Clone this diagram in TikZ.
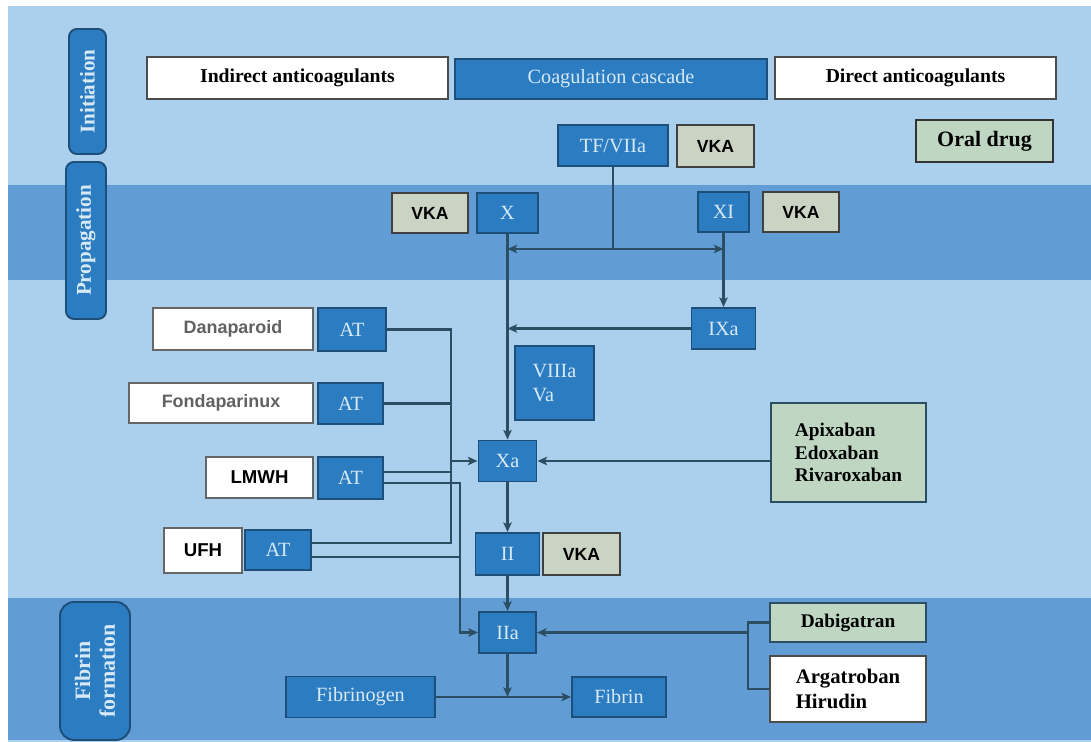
\documentclass[tikz,border=0pt]{standalone}
\usepackage{fontspec}
\setmainfont{Liberation Serif}
\newfontfamily\drugsans{Liberation Sans}
\usetikzlibrary{arrows.meta}
\usetikzlibrary{calc}

\definecolor{bglight}{HTML}{AAD0EE}
\definecolor{bgband}{HTML}{619CD4}
\definecolor{casfill}{HTML}{2B7CC1}
\definecolor{casedge}{HTML}{1E4E7A}
\definecolor{castext}{HTML}{D8E9F6}
\definecolor{linkcol}{HTML}{2C4E63}
\definecolor{vkafill}{HTML}{CBD3C5}
\definecolor{oralfill}{HTML}{BED6C2}

\tikzset{
 sz/.style 2 args={minimum width=#1*0.02cm, minimum height=#2*0.02cm},
 cas/.style={draw=casedge, fill=casfill, line width=1.1pt, inner sep=0pt, text=castext,
   align=center, font=\fontsize{11.5}{13.7}\selectfont},
 whitebox/.style={draw=black!70, fill=white, line width=1.1pt, inner sep=0pt, align=left,
   font=\fontsize{11.2}{14}\selectfont\bfseries},
 drugbox/.style={draw=black!60, fill=white, line width=1.1pt, inner sep=0pt,
   font=\drugsans\fontsize{10.2}{12}\selectfont\bfseries},
 vkabox/.style={draw=black!75, fill=vkafill, line width=1.2pt, inner sep=0pt,
   font=\drugsans\fontsize{10}{12}\selectfont\bfseries},
 oralbox/.style={draw=linkcol, fill=oralfill, line width=1.1pt, inner sep=0pt, align=left,
   font=\fontsize{11}{13}\selectfont\bfseries},
 phase/.style={draw=casedge, fill=casfill, line width=1.1pt, rounded corners=4.5pt, inner sep=0pt,
   rotate=90, text=castext, align=center, font=\fontsize{12}{14}\selectfont\bfseries},
 link/.style={draw=linkcol, line width=1.4pt},
 >={Stealth[length=5.5pt, width=4.8pt, inset=1.3pt]}
}

\begin{document}
\begin{tikzpicture}[x=0.02cm, y=-0.02cm]
\useasboundingbox (0,0) rectangle (1091,742);
\fill[white] (0,0) rectangle (1091,742);
\fill[bglight] (8,6) rectangle (1091,742);
\fill[bgband] (8,185) rectangle (1091,280);
\fill[bgband] (8,598) rectangle (1091,740);

\node[phase, sz={125}{37}] (init) at (87.5,91.5) {Initiation};
\node[phase, sz={157}{40}] (prop) at (86,240.5) {Propagation};
\node[phase, sz={138}{70}, rounded corners=8pt, font=\fontsize{12.5}{14}\selectfont\bfseries] (fibform) at (95,671) {Fibrin\\formation};

\node[whitebox, sz={301}{42}] (indirect) at (297.5,78) {Indirect anticoagulants};
\node[cas, sz={312}{40}] (cascade) at (611,79) {Coagulation cascade};
\node[whitebox, sz={281}{42}] (direct) at (915.5,78) {Direct anticoagulants};

\node[cas, sz={110}{41}] (tf) at (613,145.5) {TF/VIIa};
\node[vkabox, sz={77}{42}, line width=1.5pt] (vkatf) at (715.5,146) {VKA};
\node[oralbox, sz={137}{42}, draw=black!80, line width=1.6pt, font=\fontsize{12.5}{14}\selectfont\bfseries] (oral) at (984.5,141) {Oral drug};

\node[vkabox, sz={76}{40}] (vkax) at (430,213) {VKA};
\node[cas, sz={61}{40}] (x) at (507.5,213) {X};
\node[cas, sz={51}{40}] (xi) at (723.5,212) {XI};
\node[vkabox, sz={76}{40}] (vkaxi) at (801,212) {VKA};

\node[cas, sz={64}{41}] (ixa) at (723.5,328.5) {IXa};
\node[cas, sz={79}{74}, align=left] (viiia) at (554.5,383) {VIIIa\\Va};
\node[cas, sz={58}{41}] (xa) at (507.5,461) {Xa};
\node[cas, sz={64}{42}] (ii) at (507.5,554) {II};
\node[vkabox, sz={77}{42}] (vkaii) at (581.5,554) {VKA};
\node[cas, sz={57}{41}] (iia) at (507.5,632.5) {IIa};
\node[cas, sz={149}{41}] (fgen) at (360.5,697) {Fibrinogen};
\node[cas, sz={94}{40}] (fibrin) at (619,697) {Fibrin};

\node[drugbox, sz={160}{42}, text=black!62] (dana) at (233,329) {Danaparoid};
\node[cas, sz={68}{43}] (at1) at (352,329.5) {AT};
\node[drugbox, sz={184}{40}, text=black!62] (fonda) at (221,403) {Fondaparinux};
\node[cas, sz={65}{41}] (at2) at (350.5,403.5) {AT};
\node[drugbox, sz={107}{41}, font=\drugsans\fontsize{10.6}{12}\selectfont\bfseries] (lmwh) at (259.5,477.5) {LMWH};
\node[cas, sz={65}{42}] (at3) at (350.5,478) {AT};
\node[drugbox, sz={78}{45}, font=\drugsans\fontsize{10.6}{12}\selectfont\bfseries] (ufh) at (203,550.5) {UFH};
\node[cas, sz={66}{40}] (at4) at (278,550) {AT};

\node[oralbox, sz={155}{99}] (xadrugs) at (848.5,452.5) {Apixaban\\Edoxaban\\Rivaroxaban};
\node[oralbox, sz={156}{39}] (dabi) at (848,622.5) {Dabigatran};
\node[whitebox, sz={156}{66}, font=\fontsize{11.8}{14.2}\selectfont\bfseries] (arga) at (848,689) {Argatroban\\Hirudin};

\coordinate (tfj) at (613,249);
\draw[link] (tf.south) -- (tfj);
\draw[link,->] (tfj) -- (tfj -| x.south);
\draw[link,->] (tfj) -- (tfj -| xi.south);
\draw[link,->] (x.south) -- (xa.north);
\draw[link,->] (xi.south) -- (ixa.north);
\draw[link,->] (ixa.west) -- (ixa.west -| x.south);
\draw[link,->] (xa.south) -- (ii.north);
\draw[link,->] (ii.south) -- (iia.north);
\draw[link,->] (iia.south) -- (iia.south |- fgen.east);
\draw[link,->] (fgen.east) -- (fibrin.west);

\coordinate (busxa) at (451,461);
\coordinate (busiia) at (460,632.5);
\draw[link] (at1.east) -| (busxa);
\draw[link] (at2.east) -| (busxa);
\draw[link] (at3.east) ++(0,-6) -| (busxa);
\draw[link] (at4.east) ++(0,-7) -| (busxa);
\draw[link,->] (busxa) -- (xa.west);
\draw[link,->] (at3.east) ++(0,5) -| (busiia) -- (iia.west);
\draw[link] (at4.east) ++(0,7) -| (busiia);

\coordinate (brk) at (748,632.5);
\draw[link,->] (xadrugs.west |- xa.east) -- (xa.east);
\draw[link] (dabi.west) -| (brk) |- (arga.west);
\draw[link,->] (brk) -- (iia.east);
\end{tikzpicture}
\end{document}
